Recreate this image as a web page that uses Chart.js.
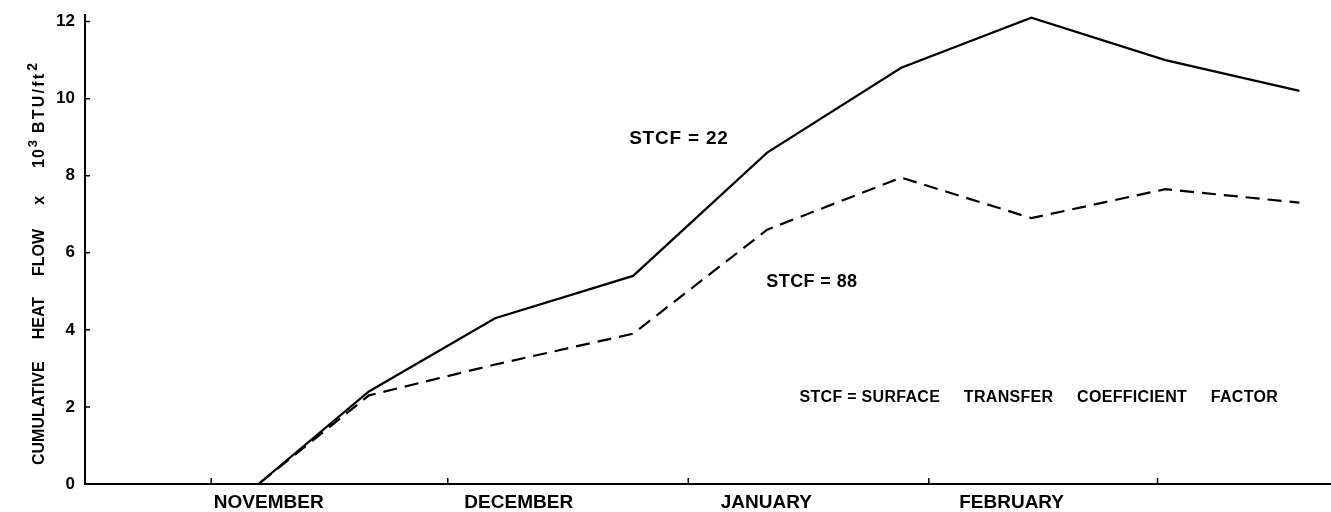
<!DOCTYPE html>
<html>
<head>
<meta charset="utf-8">
<script src="https://cdn.jsdelivr.net/npm/chart.js@4"></script>
<style>
  html, body { margin: 0; padding: 0; background: #fff; }
  canvas { display: block; }
</style>
</head>
<body>
<canvas id="chart" width="1331" height="512"></canvas>
<script>
// x positions in days, day 0 = 1 November
const days = [-16, 6, 20, 36, 53.5, 70.5, 87.5, 104, 121, 138];
const stcf22 = [0, 0, 2.4, 4.3, 5.4, 8.6, 10.8, 12.1, 11.0, 10.2];
const stcf88 = [0, 0, 2.3, 3.1, 3.9, 6.6, 7.95, 6.9, 7.65, 7.3];

// month boundary tick marks and where the month names sit
const monthTicks = [0, 30, 60.5, 91, 120];
const monthLabelDays = [7.3, 39, 70.4, 101.5];
const monthNames = ['NOVEMBER', 'DECEMBER', 'JANUARY', 'FEBRUARY'];

const yTicks = [0, 2, 4, 6, 8, 10, 12];

const notes = [
  { text: 'STCF = 22', x: 53, y: 8.97, size: 19, spacing: 0.8 },
  { text: 'STCF = 88', x: 70.4, y: 5.25, size: 18, spacing: 0.4 },
  { text: 'STCF = SURFACE     TRANSFER     COEFFICIENT     FACTOR', x: 74.6, y: 2.25, size: 16, spacing: 0.3 }
];

// y axis title pieces: [text, size, raise, gapAfter, letterSpacing]
const yTitle = [
  ['CUMULATIVE', 16, 0, 22, 0],
  ['HEAT', 16, 0, 21, 0],
  ['FLOW', 16, 0, 24, 0],
  ['x', 16, 0, 28, 0],
  ['10', 16, 0, 1, 1],
  ['3', 13, 7, 7, 0],
  ['BTU/ft', 16, 0, 1, 2.2],
  ['2', 14, 7, 0, 0]
];

const FONT = '"Liberation Sans", Arial, sans-serif';

const toPoints = (vals) => vals.map((v, i) => ({ x: days[i], y: v }));

// small inward tick marks like the original drawing
const innerTicks = {
  id: 'innerTicks',
  afterDraw(chart) {
    const { ctx, scales: { x, y } } = chart;
    ctx.save();
    ctx.strokeStyle = '#000';
    ctx.lineWidth = 1.5;
    ctx.beginPath();
    yTicks.forEach(v => {
      const py = y.getPixelForValue(v);
      ctx.moveTo(x.left, py);
      ctx.lineTo(x.left + 5, py);
    });
    monthTicks.forEach(v => {
      const px = x.getPixelForValue(v);
      ctx.moveTo(px, y.bottom);
      ctx.lineTo(px, y.bottom - 6);
    });
    ctx.stroke();
    ctx.restore();
  }
};

const labels = {
  id: 'labels',
  afterDraw(chart) {
    const { ctx, scales: { x, y } } = chart;
    ctx.save();
    ctx.fillStyle = '#000';
    ctx.textBaseline = 'middle';
    ctx.textAlign = 'left';
    notes.forEach(n => {
      ctx.font = 'bold ' + n.size + 'px ' + FONT;
      ctx.letterSpacing = n.spacing + 'px';
      ctx.fillText(n.text, x.getPixelForValue(n.x), y.getPixelForValue(n.y));
    });

    // rotated y title with real superscripts
    ctx.translate(44, y.bottom - 19);
    ctx.rotate(-Math.PI / 2);
    ctx.textBaseline = 'alphabetic';
    let pos = 0;
    yTitle.forEach(([t, size, raise, gap, sp]) => {
      ctx.font = 'bold ' + size + 'px ' + FONT;
      ctx.letterSpacing = sp + 'px';
      ctx.fillText(t, pos, -raise);
      pos += ctx.measureText(t).width + gap;
    });
    ctx.restore();
  }
};

new Chart(document.getElementById('chart'), {
  type: 'line',
  data: {
    datasets: [
      {
        label: 'STCF = 22',
        data: toPoints(stcf22),
        borderColor: '#000',
        borderWidth: 2.2,
        pointRadius: 0,
        tension: 0,
        fill: false
      },
      {
        label: 'STCF = 88',
        data: toPoints(stcf88),
        borderColor: '#000',
        borderWidth: 2.2,
        borderDash: [14, 8],
        pointRadius: 0,
        tension: 0,
        fill: false
      }
    ]
  },
  options: {
    responsive: false,
    animation: false,
    layout: { padding: { top: 15, right: 0, left: 0, bottom: 0 } },
    plugins: {
      legend: { display: false },
      tooltip: { enabled: false }
    },
    scales: {
      x: {
        type: 'linear',
        min: -16,
        max: 142,
        afterFit: (scale) => {
          scale.height = 28;
          scale.paddingLeft = 0;
          scale.paddingRight = 0;
        },
        afterBuildTicks: (scale) => {
          const all = monthTicks.concat(monthLabelDays).sort((a, b) => a - b);
          scale.ticks = all.map(v => ({ value: v }));
        },
        grid: { display: false, drawTicks: false },
        border: { display: true, color: '#000', width: 2 },
        ticks: {
          autoSkip: false,
          maxRotation: 0,
          padding: 7,
          color: '#000',
          font: { family: FONT, size: 19, weight: 'bold' },
          callback: (v) => {
            const i = monthLabelDays.indexOf(v);
            return i >= 0 ? monthNames[i] : '';
          }
        }
      },
      y: {
        min: 0,
        max: 12.17,
        afterFit: (scale) => {
          scale.width = 85;
          scale.paddingTop = 0;
          scale.paddingBottom = 0;
        },
        afterBuildTicks: (scale) => {
          scale.ticks = yTicks.map(v => ({ value: v }));
        },
        grid: { display: false, drawTicks: false },
        border: { display: true, color: '#000', width: 2 },
        ticks: {
          padding: 10,
          color: '#000',
          font: { family: FONT, size: 17, weight: 'bold' }
        }
      }
    }
  },
  plugins: [innerTicks, labels]
});
</script>
</body>
</html>
